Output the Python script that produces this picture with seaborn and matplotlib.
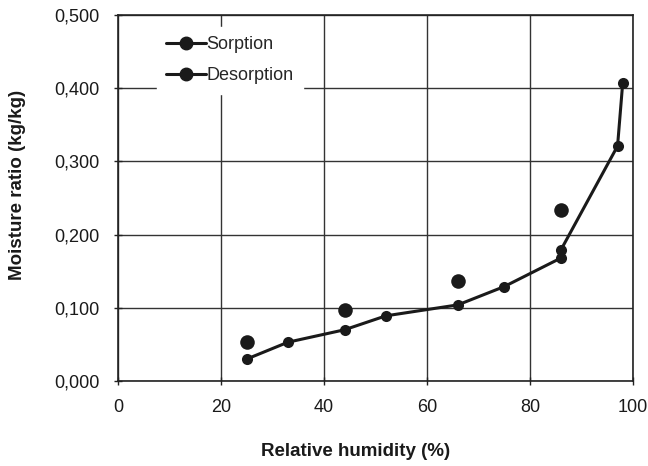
import matplotlib
matplotlib.use("Agg")
import matplotlib.pyplot as plt
from matplotlib.lines import Line2D
from matplotlib.ticker import FuncFormatter, MultipleLocator
import seaborn as sns
import pandas as pd

# Sorption isotherm (connected)
sorption_rh = [25, 33, 44, 52, 66, 75, 86, 86, 97, 98]
sorption_mr = [0.030, 0.053, 0.070, 0.089, 0.104, 0.129, 0.168, 0.179, 0.321, 0.407]

# Desorption measurements (markers only)
desorption_rh = [25, 44, 66, 86]
desorption_mr = [0.053, 0.097, 0.137, 0.233]

series_names = ["Sorption", "Desorption"]

sns.set_theme(style="white")
plt.rcParams["font.family"] = ["Liberation Sans", "DejaVu Sans"]

sorp = pd.DataFrame({"rh": sorption_rh, "mr": sorption_mr})
desorp = pd.DataFrame({"rh": desorption_rh, "mr": desorption_mr})

fig = plt.figure(figsize=(6.48, 4.66), dpi=100)
ax = fig.add_axes([118 / 648, 1 - 381 / 466, (633 - 118) / 648, (381 - 15) / 466])

sns.lineplot(data=sorp, x="rh", y="mr", ax=ax, color="#1a1a1a", linewidth=2.2,
             marker="o", markersize=8, markeredgewidth=0, sort=False,
             estimator=None, zorder=4)
sns.scatterplot(data=desorp, x="rh", y="mr", ax=ax, color="#1a1a1a", s=110,
                linewidth=0, zorder=5)

ax.set_xlim(0, 100)
ax.set_ylim(0, 0.5)
ax.xaxis.set_major_locator(MultipleLocator(20))
ax.yaxis.set_major_locator(MultipleLocator(0.1))
ax.yaxis.set_major_formatter(FuncFormatter(lambda v, p: f"{v:.3f}".replace(".", ",")))

ax.grid(True, color="#333333", linewidth=1.0)
ax.set_axisbelow(True)
for s in ax.spines.values():
    s.set_color("#222222")
    s.set_linewidth(1.2)
    s.set_visible(True)

ax.tick_params(axis="both", direction="inout", length=6, width=1, color="#222222",
               labelsize=13, labelcolor="#1a1a1a", pad=10, bottom=True, left=True)

ax.set_xlabel("Relative humidity (%)", fontsize=13.5, fontweight="bold", color="#1a1a1a")
ax.set_ylabel("Moisture ratio (kg/kg)", fontsize=13.5, fontweight="bold", color="#1a1a1a")
ax.xaxis.set_label_coords((356 - 118) / (633 - 118), -(452 - 381) / (381 - 15), transform=ax.transAxes)
ax.xaxis.label.set_va("center")
ax.yaxis.set_label_coords(-(118 - 18) / (633 - 118), (381 - 185) / (381 - 15), transform=ax.transAxes)
ax.yaxis.label.set_va("center")

handles = [Line2D([], [], color="#1a1a1a", linewidth=2.2, marker="o", markersize=9)
           for _ in series_names]
leg = ax.legend(handles, series_names, loc="upper left",
                bbox_to_anchor=((157 - 118) / 515, 1 - (27 - 15) / 366),
                frameon=True, fancybox=False, framealpha=1, edgecolor="white",
                facecolor="white", fontsize=13, handlelength=2.2, handletextpad=0.05,
                labelspacing=0.8, borderpad=0.5, borderaxespad=0)
leg.set_zorder(6)

fig.savefig("out.png", dpi=100)
